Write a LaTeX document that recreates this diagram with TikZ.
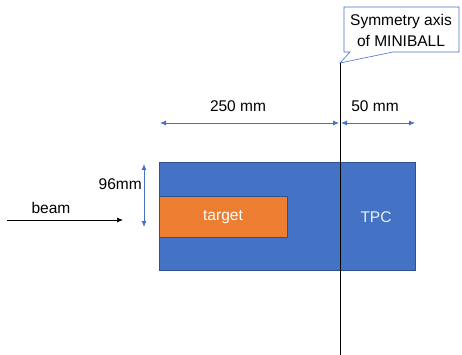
\documentclass[tikz,border=0pt]{standalone}
\usepackage{fontspec}
\setmainfont{Liberation Sans}
\usetikzlibrary{arrows.meta}
\definecolor{tpcblue}{HTML}{4472C4}
\definecolor{edgeblue}{HTML}{2F528F}
\definecolor{targetorange}{HTML}{ED7D31}
\tikzset{
  lbl/.style={font=\fontsize{15.5}{18}\selectfont, inner sep=0pt},
  dimarrow/.style={draw=tpcblue, line width=0.8pt, {Latex[length=6pt,width=5pt]}-{Latex[length=6pt,width=5pt]}},
  blockbox/.style={draw=edgeblue, line width=0.8pt, inner sep=0pt, anchor=north west},
}
\begin{document}
\begin{tikzpicture}[x=1pt,y=-1pt]
  \useasboundingbox (0,0) rectangle (462,355);
  % detector and target
  \node[blockbox, fill=tpcblue, minimum width=256pt, minimum height=108pt] (tpc) at (159,162) {};
  \node[blockbox, fill=targetorange, minimum width=128pt, minimum height=41pt] (target) at (159,196) {};
  \node[lbl, text=white] (targetlbl) at (223,217) {target};
  \node[lbl, text=white!90!tpcblue] (tpclbl) at (376,217) {TPC};
  % symmetry axis with callout
  \coordinate (axtop) at (340,63);
  \coordinate (axbot) at (340,355);
  \draw[black, line width=0.8pt] (axtop) -- (axbot);
  \draw[draw=tpcblue, line width=0.6pt, fill=white]
    (344,7) -- (459,7) -- (459,52) -- (393,52) -- (axtop) -- (350,52) -- (344,52) -- cycle;
  \node[lbl, align=center, font=\fontsize{15.5}{21}\selectfont] (callout) at (401,30) {Symmetry axis\\of MINIBALL};
  % dimension arrows
  \coordinate (d1a) at (160,123);
  \coordinate (d1b) at (339,123);
  \coordinate (d2a) at (341,123);
  \coordinate (d2b) at (415,123);
  \draw[dimarrow] (d1a) -- (d1b);
  \draw[dimarrow] (d2a) -- (d2b);
  \node[lbl] (l250) at (238,106) {250 mm};
  \node[lbl] (l50) at (375,106) {50 mm};
  \coordinate (v1) at (144,164);
  \coordinate (v2) at (144,227);
  \draw[dimarrow] (v1) -- (v2);
  \node[lbl, anchor=east] (l96) at (142,184) {96mm};
  % beam
  \coordinate (b1) at (7,220);
  \coordinate (b2) at (123,220);
  \draw[black, line width=0.7pt, -{Latex[length=6pt,width=5pt]}] (b1) -- (b2);
  \node[lbl] (beamlbl) at (51,208) {beam};
\end{tikzpicture}
\end{document}
